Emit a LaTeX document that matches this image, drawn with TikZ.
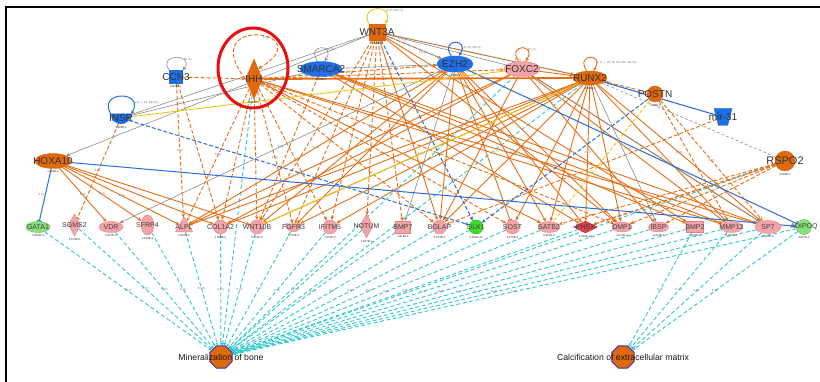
\documentclass[tikz,border=0pt]{standalone}
\usepackage{fontspec}
\setmainfont{Liberation Sans}
\usetikzlibrary{shapes.geometric,arrows.meta,backgrounds}

\definecolor{ipaorange}{HTML}{E66E14}
\definecolor{ipanode}{HTML}{E0680F}
\definecolor{ipablue}{HTML}{1E6EE6}
\definecolor{ipaline}{HTML}{2A6FDD}
\definecolor{ipapink}{HTML}{F4A3A8}
\definecolor{ipapinkline}{HTML}{E08088}
\definecolor{ipared}{HTML}{E0404E}
\definecolor{ipagreen}{HTML}{88E07A}
\definecolor{ipalime}{HTML}{3CDC28}
\definecolor{ipacyan}{HTML}{2EC8D0}
\definecolor{ipagrey}{HTML}{8C8C8C}
\definecolor{ipayellow}{HTML}{E6C81E}
\definecolor{ipaoct}{HTML}{3A2FC0}
\definecolor{ipahl}{HTML}{E81010}

\begin{document}
\begin{tikzpicture}[%
    x=1pt, y=1pt,
    >={Stealth[length=4pt,width=3.5pt]},
    glab/.style={font=\fontsize{10}{11}\selectfont, text=black!80, inner sep=0pt},
    slab/.style={font=\fontsize{7}{8}\selectfont, text=black!75, inner sep=0pt},
    flab/.style={font=\fontsize{8.7}{9}\selectfont, text=black!90, inner sep=0pt},
    pval/.style={font=\fontsize{2.8}{3}\selectfont, text=black!85, inner sep=0pt},
    elab/.style={font=\fontsize{2.8}{3}\selectfont, text=black!55, inner sep=0.4pt},
    tl/.style={label={[glab]center:#1}},
    bl/.style={label={[slab]center:#1}},
    pv/.style={label={[pval,label distance=2pt]below:#1}},
    orgnode/.style={draw=ipanode, fill=ipanode, inner sep=0pt},
    bluenode/.style={draw=ipablue, fill=ipablue, inner sep=0pt},
    pinknode/.style={draw=ipapinkline, fill=ipapink, inner sep=0pt, line width=0.4pt},
    greennode/.style={draw=ipagreen!80!black, fill=ipagreen, inner sep=0pt, line width=0.4pt},
    fnode/.style={regular polygon, regular polygon sides=8, minimum size=24pt,
      fill=ipanode, draw=ipaoct, line width=0.9pt, inner sep=0pt},
    act/.style={draw=ipaorange, line width=0.9pt, ->},
    actd/.style={act, dash pattern=on 4pt off 2pt},
    inhb/.style={-{Bar[width=5pt]}},
    inh/.style={draw=ipaorange, line width=0.9pt, inhb},
    inhd/.style={inh, dash pattern=on 4pt off 2pt},
    gry/.style={draw=ipagrey, line width=0.6pt},
    gryd/.style={gry, dash pattern=on 3pt off 2pt},
    blu/.style={draw=ipaline, line width=1pt},
    blud/.style={blu, dash pattern=on 4pt off 2pt},
    yel/.style={draw=ipayellow, line width=0.9pt},
    yeld/.style={yel, dash pattern=on 4pt off 2pt},
    fn/.style={draw=ipacyan, line width=0.9pt, dash pattern=on 4pt off 2.5pt,
      -{Stealth[length=3pt,width=3pt]}}
  ]
    \useasboundingbox (0,0) rectangle (820,382);
    \draw[line width=2.5pt] (5,375) -- (820,375);
    \draw[line width=2.5pt] (6,376) -- (6,0);

    % upstream regulators
    \node[orgnode, rectangle, minimum size=16pt, tl=WNT3A, pv=4.609E-1] (wnt3a) at (377,350) {};
    \node[orgnode, diamond, minimum width=17pt, minimum height=40pt, tl=IHH, pv=6.288E-1] (ihh) at (254,303) {};
    \node[bluenode, rectangle, minimum size=13pt, tl=CCN3, pv=6.808E-1] (ccn3) at (176,305) {};
    \node[bluenode, ellipse, minimum width=42pt, minimum height=15pt, tl=SMARCA2, pv=1.608E-1] (smarca2) at (321,313) {};
    \node[bluenode, ellipse, minimum width=36pt, minimum height=16pt, tl=EZH2, pv=1.008E-1] (ezh2) at (455,318) {};
    \node[pinknode, ellipse, minimum width=36pt, minimum height=15pt, tl=FOXC2] (foxc2) at (522,313) {};
    \node[orgnode, ellipse, minimum width=34pt, minimum height=14pt, tl=RUNX2, pv=3.606E-1] (runx2) at (590,304) {};
    \node[orgnode, circle, minimum size=16pt, tl=POSTN, pv=7.225E-1] (postn) at (655,288) {};
    \node[bluenode, trapezium, shape border rotate=180, trapezium stretches=true, inner sep=3pt,
      trapezium left angle=65, trapezium right angle=65, minimum width=18pt, minimum height=17pt,
      tl=mir-31] (mir31) at (723,265) {};
    \node[bluenode, semicircle, shape border rotate=180, inner sep=0.5pt, minimum width=20pt,
      minimum height=10pt, tl=INSR, pv=1.906E-1] (insr) at (121,264) {};
    \node[orgnode, ellipse, minimum width=36pt, minimum height=15pt, tl=HOXA10, pv=1.402E-2] (hoxa10) at (53,221) {};
    \node[orgnode, circle, minimum size=20pt, label={[glab,font=\fontsize{11}{12}\selectfont]center:RSPO2},
      pv=9.090E-1] (rspo2) at (785,221) {};

    % targets
    \node[greennode, ellipse, minimum width=24pt, minimum height=11pt, bl=GATA1, pv=3.997E-3] (gata1) at (38,155) {};
    \node[pinknode, diamond, minimum width=12pt, minimum height=22pt, bl=SGMS2, pv=5.579E-5] (sgms2) at (74.5,157) {};
    \node[pinknode, ellipse, minimum width=24pt, minimum height=11pt, bl=VDR, pv=5.527E-2] (vdr) at (111,155) {};
    \node[pinknode, ellipse, minimum width=13pt, minimum height=20pt, bl=SFRP4, pv=3.199E-3] (sfrp4) at (147.5,157) {};
    \node[pinknode, regular polygon, regular polygon sides=3, minimum size=20pt, bl=ALPL, pv=2.957E-3] (alpl) at (184,155) {};
    \node[pinknode, circle, minimum size=14pt, bl=COL1A2, pv=1.096E-2] (col1a2) at (220.5,155) {};
    \node[pinknode, circle, minimum size=14pt, bl=WNT10B, pv=6.701E-3] (wnt10b) at (257,155) {};
    \node[pinknode, semicircle, shape border rotate=180, inner sep=0.5pt, minimum width=16pt,
      minimum height=8pt, bl=FGFR3, pv=5.726E-3] (fgfr3) at (293.5,155) {};
    \node[pinknode, circle, minimum size=14pt, bl=IFITM5, pv=1.301E-2] (ifitm5) at (330,155) {};
    \node[pinknode, diamond, minimum width=13pt, minimum height=24pt, bl=NOTUM, pv=2.637E-1] (notum) at (366.5,156) {};
    \node[pinknode, rectangle, minimum width=15pt, minimum height=12pt, bl=BMP7, pv=1.919E-1] (bmp7) at (403,155) {};
    \node[pinknode, circle, minimum size=14pt, bl=BGLAP, pv=5.073E-2] (bglap) at (439.5,155) {};
    \node[draw=ipalime!80!black, fill=ipalime, circle, minimum size=14pt, inner sep=0pt, bl=DLK1, pv=2.341E-10] (dlk1) at (476,155) {};
    \node[pinknode, circle, minimum size=14pt, bl=SOST, pv=9.075E-3] (sost) at (512.5,155) {};
    \node[pinknode, ellipse, minimum width=22pt, minimum height=11pt, bl=SATB2, pv=5.952E-4] (satb2) at (549,155) {};
    \node[draw=ipared!80!black, fill=ipared, diamond, minimum width=24pt, minimum height=12pt, inner sep=0pt,
      bl=PHEX, pv=1.509E-22] (phex) at (585.5,155) {};
    \node[pinknode, ellipse, minimum width=20pt, minimum height=10pt, bl=DMP1, pv=3.271E-3] (dmp1) at (622,155) {};
    \node[pinknode, ellipse, minimum width=20pt, minimum height=10pt, bl=IBSP, pv=2.200E-3] (ibsp) at (658.5,155) {};
    \node[pinknode, rectangle, minimum width=17pt, minimum height=11pt, bl=BMP2, pv=1.042E-2] (bmp2) at (695,155) {};
    \node[pinknode, ellipse, minimum width=22pt, minimum height=11pt, bl=MMP13, pv=4.906E-2] (mmp13) at (731.5,155) {};
    \node[pinknode, ellipse, minimum width=26pt, minimum height=13pt, bl=SP7, pv=1.905E-3] (sp7) at (768,155) {};
    \node[greennode, circle, minimum size=15pt, bl=ADIPOQ, pv=3.917E-2] (adipoq) at (804,155) {};

    % functions
    \node[fnode, label={[flab]center:Mineralization of bone}] (minbone) at (221,25) {};
    \node[fnode, label={[flab]center:Calcification of extracellular matrix}] (calcecm) at (623,25) {};

    \begin{scope}[on background layer]
    \path (gata1)  edge[fn] node[elab]{E (1)} (minbone)
          (sgms2)  edge[fn] node[elab]{E (1)} (minbone)
          (vdr)    edge[fn] node[elab]{E (4)} (minbone)
          (sfrp4)  edge[fn] node[elab]{E (1)} (minbone)
          (alpl)   edge[fn] node[elab]{E (10)} (minbone)
          (col1a2) edge[fn] node[elab]{E (4)} (minbone)
          (wnt10b) edge[fn] node[elab]{E (1)} (minbone)
          (fgfr3)  edge[fn] node[elab]{E (2)} (minbone)
          (ifitm5) edge[fn] node[elab]{E (3)} (minbone)
          (notum)  edge[fn] node[elab]{E (1)} (minbone)
          (bmp7)   edge[fn] node[elab]{E (1)} (minbone)
          (bglap)  edge[fn] node[elab]{E (1)} (minbone)
          (dlk1)   edge[fn] node[elab]{E (1)} (minbone)
          (sost)   edge[fn] node[elab]{E (3)} (minbone)
          (satb2)  edge[fn] node[elab]{E (2)} (minbone)
          (phex)   edge[fn] node[elab]{E (6)} (minbone)
          (dmp1)   edge[fn] node[elab]{E (4)} (minbone)
          (ibsp)   edge[fn] node[elab]{E (2)} (minbone)
          (bmp2)   edge[fn] node[elab]{E (4)} (minbone)
          (mmp13)  edge[fn] node[elab]{E (1)} (minbone)
          (sp7)    edge[fn] node[elab]{E (3)} (minbone)
          (adipoq) edge[fn] node[elab]{E (1)} (minbone)
          (ihh)    edge[fn] (minbone)
          (foxc2)  edge[fn] (minbone)
          (runx2)  edge[fn] (minbone)
          (rspo2)  edge[fn] (minbone)
          (bmp2)   edge[fn] node[elab]{E (1)} (calcecm)
          (mmp13)  edge[fn] node[elab]{E (1)} (calcecm)
          (sp7)    edge[fn] node[elab]{E (1)} (calcecm)
          (adipoq) edge[fn] node[elab]{E (8)} (calcecm);

    \path (runx2)  edge[act, line width=1.8pt] (ihh)
          (foxc2)  edge[act] (runx2)
          (wnt3a)  edge[act] node[elab, above, pos=0.7]{E (2)} (runx2)
          (runx2)  edge[act] node[elab]{E (5)} (alpl)
          (runx2)  edge[act] (col1a2)
          (runx2)  edge[act] node[elab]{E (1)} (wnt10b)
          (runx2)  edge[act] (fgfr3)
          (runx2)  edge[act] (ifitm5)
          (runx2)  edge[act] node[elab]{E (3)} (bglap)
          (runx2)  edge[act] (sost)
          (runx2)  edge[act] (satb2)
          (runx2)  edge[act] node[elab]{E (2)} (phex)
          (runx2)  edge[act] (dmp1)
          (runx2)  edge[act] (mmp13)
          (runx2)  edge[act] node[elab]{E (4)} (sp7)
          (foxc2)  edge[act] (alpl)
          (foxc2)  edge[act] node[elab]{E (1)} (col1a2)
          (foxc2)  edge[act] (bglap)
          (foxc2)  edge[act] (sp7)
          (foxc2)  edge[act] node[elab]{E (1)} (mmp13)
          (foxc2)  edge[act] (ibsp)
          (ezh2)   edge[act] node[elab]{E (1)} (alpl)
          (ezh2)   edge[act] (wnt10b)
          (ezh2)   edge[act] (fgfr3)
          (ezh2)   edge[act] (bglap)
          (ezh2)   edge[act] node[elab]{E (2)} (phex)
          (ezh2)   edge[act] (dmp1)
          (ezh2)   edge[act] (satb2)
          (ezh2)   edge[inh] node[elab]{E (1)} (sost)
          (smarca2) edge[act] node[elab]{E (1)} (mmp13)
          (smarca2) edge[act] (sp7)
          (smarca2) edge[act] (phex)
          (smarca2) edge[act] (bmp2)
          (ihh)    edge[act] (mmp13)
          (ihh)    edge[act] node[elab]{E (1)} (sp7)
          (ihh)    edge[act] (satb2)
          (wnt3a)  edge[act] (bglap)
          (wnt3a)  edge[act] (bmp2)
          (wnt3a)  edge[act] node[elab]{E (1)} (dmp1)
          (hoxa10) edge[act] node[elab]{E (5)} (vdr)
          (hoxa10) edge[act] node[elab]{E (1)} (sfrp4)
          (hoxa10) edge[act] node[elab]{E (1)} (alpl)
          (hoxa10) edge[act] (col1a2)
          (hoxa10) edge[act] (wnt10b);

    \path (ccn3)   edge[actd] (ihh)
          (ccn3)   edge[actd] node[elab]{E (1)} (alpl)
          (ccn3)   edge[actd] (col1a2)
          (insr)   edge[inhd] node[elab]{E (1)} (sgms2)
          (ihh)    edge[actd] node[elab]{E (1)} (alpl)
          (ihh)    edge[actd] (col1a2)
          (ihh)    edge[actd] (wnt10b)
          (ihh)    edge[actd] node[elab]{E (1)} (fgfr3)
          (ihh)    edge[actd] (ifitm5)
          (ihh)    edge[actd] (bglap)
          (ihh)    edge[actd] (sost)
          (ihh)    edge[actd] (dmp1)
          (ihh)    edge[actd] node[elab]{E (1)} (ezh2)
          (ihh)    edge[actd] (foxc2)
          (wnt3a)  edge[actd] node[elab]{E (1)} (notum)
          (wnt3a)  edge[actd] (wnt10b)
          (wnt3a)  edge[actd] (fgfr3)
          (wnt3a)  edge[actd] (ifitm5)
          (wnt3a)  edge[actd] node[elab]{E (1)} (bmp7)
          (wnt3a)  edge[actd] node[elab, pos=0.65, below]{E (1)} (ezh2)
          (smarca2) edge[actd] (wnt10b)
          (postn)  edge[actd] (runx2)
          (postn)  edge[actd] (mmp13)
          (postn)  edge[actd] node[elab]{E (1)} (sp7)
          (mir31)  edge[actd] (bglap)
          (rspo2)  edge[actd, line width=1.3pt] (phex)
          (rspo2)  edge[actd] (dmp1)
          (rspo2)  edge[actd] (ibsp)
          (rspo2)  edge[actd] (satb2);

    \path (wnt3a)  edge[gry, ->] (hoxa10)
          (ezh2)   edge[gry, ->] node[elab]{E (1)} (vdr)
          (wnt3a)  edge[gry] (insr)
          (insr)   edge[gry] (smarca2)
          (smarca2) edge[gry] node[elab, above]{PP (1)} (ezh2)
          (wnt3a)  edge[gry] node[elab, above, sloped, pos=0.3]{E, T (1)} (ezh2)
          (wnt3a)  edge[gry] (foxc2)
          (wnt3a)  edge[gryd] (runx2)
          (ezh2)   edge[gry, ->] (bmp7)
          (runx2)  edge[gry, ->] (ibsp)
          (foxc2)  edge[gry, ->] (sp7)
          (runx2)  edge[gryd] (rspo2)
          (runx2)  edge[gryd] (mir31);

    \path (hoxa10) edge[blu, inhb] node[elab, left]{E (1)} (gata1)
          (hoxa10) edge[blu, ->] (adipoq)
          (ezh2)   edge[blu, inhb] (adipoq)
          (runx2)  edge[blu] (mir31)
          (insr)   edge[blud, ->] node[elab]{E (1)} (dlk1)
          (wnt3a)  edge[blud, ->] (dlk1)
          (postn)  edge[blud, ->] (dlk1);

    \path (insr)   edge[yel] (foxc2)
          (wnt10b) edge[yel] (runx2)
          (postn)  edge[yeld] (satb2);

    % self loops
    \draw[yel, ->] (wnt3a.north west) .. controls +(-10,20) and +(10,20) .. (wnt3a.north east)
      node[elab, pos=0.75, anchor=south west] {E, PP, RB (3)};
    \draw[actd] (ihh.west) .. controls +(-50,65) and +(64,39) .. (ihh.north east)
      node[elab, pos=0.55, below right] {E (1)};
    \draw[gry, ->] (ccn3.north west) .. controls +(-13,17) and +(13,17) .. (ccn3.north east)
      node[elab, pos=0.7, anchor=west] {PP (1)};
    \draw[gry, ->] (smarca2.115) .. controls +(-12,18) and +(12,18) .. (smarca2.65)
      node[elab, pos=0.7, anchor=west] {PP (1)};
    \draw[blu, ->] (ezh2.115) .. controls +(-12,18) and +(12,18) .. (ezh2.65)
      node[elab, pos=0.8, anchor=west] {LO, PP, RB (3)};
    \draw[act] (foxc2.115) .. controls +(-12,18) and +(12,18) .. (foxc2.65)
      node[elab, pos=0.7, anchor=west] {PP (1)};
    \draw[act] (runx2.115) .. controls +(-12,18) and +(12,18) .. (runx2.65)
      node[elab, pos=0.8, anchor=west] {A, E, L, LO, M, PD, RB, UB (20)};
    \draw[blu, ->] (insr.160) .. controls +(-14,24) and +(14,24) .. (insr.20)
      node[elab, pos=0.8, anchor=west] {A, E, L, PP, RB (21)};
    \end{scope}

    \node[draw=ipahl, line width=3pt, ellipse, minimum width=70pt, minimum height=80pt] (ihhring) at (253,314) {};
\end{tikzpicture}
\end{document}
